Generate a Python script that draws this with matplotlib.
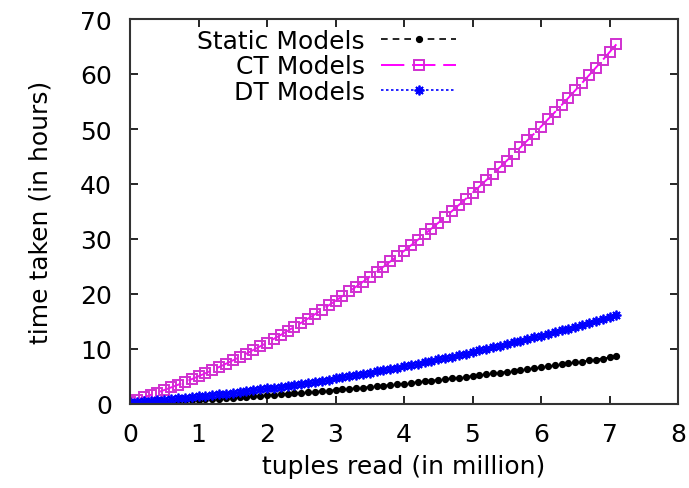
import matplotlib
matplotlib.use("Agg")
import matplotlib.pyplot as plt

plt.rcParams['font.family'] = ['DejaVu Sans']
plt.rcParams['font.size'] = 18

# tuples read (in million)
tuples = [0.0, 0.1, 0.2, 0.3, 0.4, 0.5, 0.6, 0.7, 0.8, 0.9,
          1.0, 1.1, 1.2, 1.3, 1.4, 1.5, 1.6, 1.7, 1.8, 1.9,
          2.0, 2.1, 2.2, 2.3, 2.4, 2.5, 2.6, 2.7, 2.8, 2.9,
          3.0, 3.1, 3.2, 3.3, 3.4, 3.5, 3.6, 3.7, 3.8, 3.9,
          4.0, 4.1, 4.2, 4.3, 4.4, 4.5, 4.6, 4.7, 4.8, 4.9,
          5.0, 5.1, 5.2, 5.3, 5.4, 5.5, 5.6, 5.7, 5.8, 5.9,
          6.0, 6.1, 6.2, 6.3, 6.4, 6.5, 6.6, 6.7, 6.8, 6.9,
          7.0, 7.1]

# time taken (hours)
static_models = [0.20, 0.25, 0.30, 0.35, 0.41, 0.47, 0.52, 0.59, 0.65, 0.71,
                 0.78, 0.85, 0.92, 0.99, 1.07, 1.15, 1.22, 1.31, 1.39, 1.47,
                 1.56, 1.65, 1.74, 1.83, 1.93, 2.03, 2.12, 2.23, 2.33, 2.43,
                 2.54, 2.65, 2.76, 2.87, 2.99, 3.11, 3.22, 3.35, 3.47, 3.59,
                 3.72, 3.85, 3.98, 4.11, 4.25, 4.39, 4.52, 4.67, 4.81, 4.95,
                 5.10, 5.25, 5.40, 5.55, 5.71, 5.87, 6.02, 6.19, 6.35, 6.51,
                 6.68, 6.85, 7.02, 7.19, 7.37, 7.55, 7.72, 7.91, 8.09, 8.27,
                 8.46, 8.65]
ct_models = [0.40, 0.80, 1.21, 1.64, 2.08, 2.54, 3.01, 3.49, 3.99, 4.51,
             5.04, 5.59, 6.15, 6.72, 7.31, 7.92, 8.53, 9.17, 9.82, 10.48,
             11.16, 11.85, 12.56, 13.28, 14.02, 14.78, 15.54, 16.32, 17.12, 17.93,
             18.76, 19.60, 20.46, 21.33, 22.21, 23.12, 24.03, 24.96, 25.91, 26.87,
             27.84, 28.83, 29.83, 30.85, 31.89, 32.94, 34.00, 35.08, 36.17, 37.28,
             38.40, 39.54, 40.69, 41.86, 43.04, 44.24, 45.45, 46.67, 47.91, 49.17,
             50.44, 51.73, 53.03, 54.34, 55.67, 57.02, 58.37, 59.75, 61.14, 62.54,
             63.96, 65.39]
dt_models = [0.30, 0.39, 0.48, 0.58, 0.68, 0.79, 0.90, 1.01, 1.13, 1.25,
             1.37, 1.50, 1.63, 1.77, 1.90, 2.05, 2.19, 2.35, 2.50, 2.66,
             2.82, 2.99, 3.16, 3.33, 3.51, 3.69, 3.87, 4.06, 4.25, 4.45,
             4.65, 4.85, 5.06, 5.27, 5.49, 5.71, 5.93, 6.16, 6.39, 6.62,
             6.86, 7.10, 7.35, 7.60, 7.85, 8.11, 8.37, 8.63, 8.90, 9.17,
             9.45, 9.73, 10.01, 10.30, 10.59, 10.89, 11.19, 11.49, 11.80, 12.11,
             12.42, 12.74, 13.06, 13.39, 13.71, 14.05, 14.38, 14.73, 15.07, 15.42,
             15.77, 16.13]

x_ticks = [0, 1, 2, 3, 4, 5, 6, 7, 8]
y_ticks = [0, 10, 20, 30, 40, 50, 60, 70]

fig = plt.figure(figsize=(6.89, 4.89), dpi=100)
ax = fig.add_axes([130/689, 1 - 405/489, 548/689, 385/489])

ax.plot(tuples, static_models, color='black', linestyle=(0, (4, 3)), linewidth=1.2,
        marker='o', markersize=4.2, label='Static Models')
ax.plot(tuples, ct_models, color='#ff00ff', linestyle=(0, (12, 4)), linewidth=1.4,
        marker='s', markersize=6.5, markerfacecolor='none', markeredgecolor='#d030d0',
        markeredgewidth=1.4, label='CT Models')
ax.plot(tuples, dt_models, color='#0000ff', linestyle=(0, (1.5, 1.5)), linewidth=1.2,
        marker=(8, 2, 0), markersize=7, markeredgewidth=1.3, label='DT Models')

ax.set_xlim(0, 8)
ax.set_ylim(0, 70)
ax.set_xticks(x_ticks)
ax.set_yticks(y_ticks)
ax.tick_params(direction='in', length=6, width=1.2, top=True, right=True)
ax.tick_params(axis='x', pad=13)
ax.tick_params(axis='y', pad=13)
for s in ax.spines.values():
    s.set_linewidth(1.5)
    s.set_color('#333333')

ax.set_xlabel('tuples read (in million)', labelpad=6)
ax.set_ylabel('time taken (in hours)', labelpad=20)

leg = ax.legend(loc='upper right', bbox_to_anchor=(456/689, 1 - 30/489),
                bbox_transform=fig.transFigure, frameon=False, markerfirst=False,
                handlelength=3.0, handletextpad=0.65, labelspacing=0.06,
                borderpad=0, borderaxespad=0)

fig.savefig('out.png', dpi=100)
